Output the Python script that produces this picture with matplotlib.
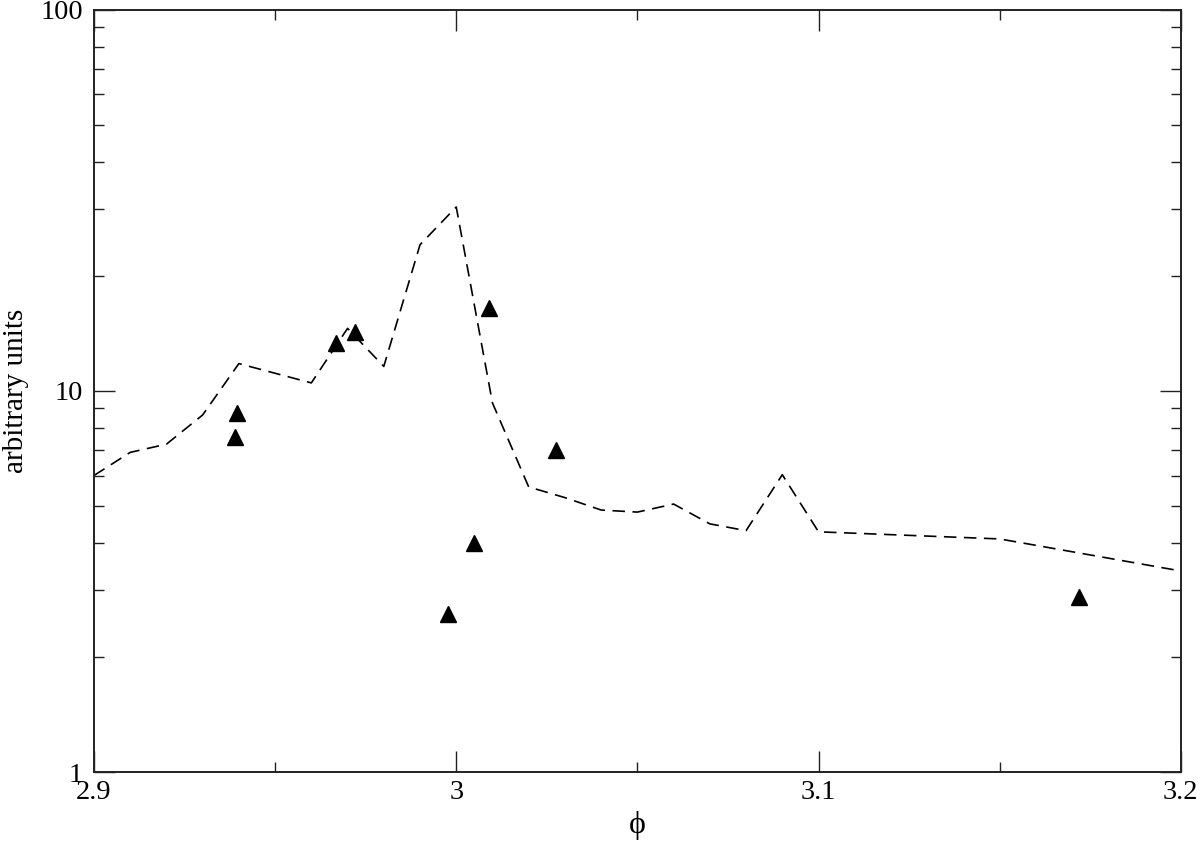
import numpy as np
import matplotlib
matplotlib.use('Agg')
import matplotlib.pyplot as plt
from matplotlib.ticker import FixedLocator, FixedFormatter, LogLocator, NullFormatter

# model curve (dashed)
phi_line = [2.90, 2.91, 2.92, 2.93, 2.94, 2.96, 2.97, 2.98, 2.99, 3.00, 3.01,
            3.02, 3.03, 3.04, 3.05, 3.06, 3.07, 3.08, 3.09, 3.10, 3.15, 3.20]
val_line = [6.0, 6.9, 7.25, 8.65, 11.8, 10.5, 14.6, 11.6, 24.2, 30.4, 9.3,
            5.6, 5.25, 4.87, 4.81, 5.05, 4.48, 4.3, 6.03, 4.27, 4.09, 3.37]

# measured points (triangles)
phi_pts = [2.9395, 2.939, 2.9669, 2.972, 3.009, 3.0276, 3.005, 2.9978, 3.172]
val_pts = [8.75, 7.57, 13.4, 14.3, 16.5, 7.0, 3.99, 2.6, 2.88]

xticks = [2.9, 3.0, 3.1, 3.2]
xticklabels = ['2.9', '3', '3.1', '3.2']
yticks = [1, 10, 100]
yticklabels = ['1', '10', '100']

plt.rcParams['font.family'] = ['Liberation Serif', 'DejaVu Serif']

fig = plt.figure(figsize=(12, 8.43), dpi=100)
ax = fig.add_axes([0.0783, 0.0842, 0.9057, 0.9040])

ax.plot(phi_line, val_line, color='black', lw=1.2, dashes=(7.5, 4.5))
ax.plot(phi_pts, val_pts, linestyle='none', marker='^', color='black', ms=11)

ax.set_yscale('log')
ax.set_xlim(2.9, 3.2)
ax.set_ylim(1, 100)

ax.xaxis.set_major_locator(FixedLocator(xticks))
ax.xaxis.set_major_formatter(FixedFormatter(xticklabels))
ax.xaxis.set_minor_locator(FixedLocator([2.95, 3.05, 3.15]))
ax.yaxis.set_major_locator(FixedLocator(yticks))
ax.yaxis.set_major_formatter(FixedFormatter(yticklabels))
ax.yaxis.set_minor_locator(LogLocator(base=10, subs=np.arange(2, 10)))
ax.yaxis.set_minor_formatter(NullFormatter())

ax.tick_params(which='both', direction='in', top=True, right=True,
               labelsize=20.5, width=1.0, color='#222222')
ax.tick_params(which='major', length=15)
ax.tick_params(which='minor', length=7.5)
ax.tick_params(axis='x', pad=6)
ax.tick_params(axis='y', pad=8)

for sp in ax.spines.values():
    sp.set_linewidth(1.4)
    sp.set_color('#222222')

ax.set_xlabel('ϕ', fontsize=23, labelpad=4)
ax.set_ylabel('arbitrary units', fontsize=21)
ax.yaxis.set_label_coords(-0.06, 0.5)

fig.savefig('out.png', dpi=100)
